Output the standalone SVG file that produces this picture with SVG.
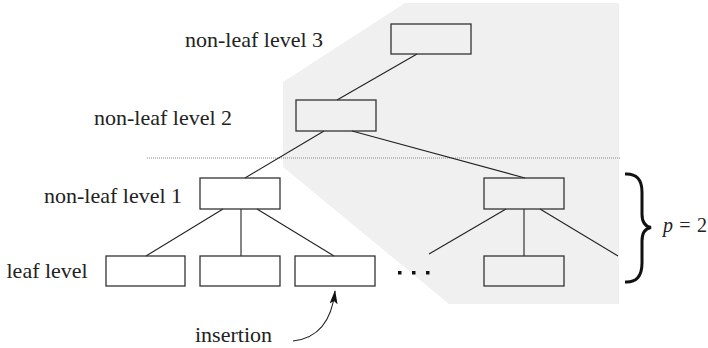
<svg xmlns="http://www.w3.org/2000/svg" width="708" height="348" viewBox="0 0 708 348">
<style>
.box{fill:none;stroke:#333;stroke-width:1.3}
.edge{stroke:#222;stroke-width:1.1;fill:none}
</style>
<defs>
<marker id="ah" viewBox="0 0 14 8" refX="13" refY="4" markerWidth="14" markerHeight="8" markerUnits="userSpaceOnUse" orient="auto">
<path d="M0,0 L14,4 L0,8 L3,4 Z" fill="#111"/>
</marker>
</defs>
<polygon id="region" points="283,82 405,3 619,3 619,304 449,304 283,167" fill="#f0f0f0"/>
<line x1="147" y1="158" x2="620" y2="158" stroke="#888" stroke-width="1" stroke-dasharray="1,1"/>
<g id="connectors">
<line class="edge" x1="417" y1="54" x2="337" y2="100"/>
<line class="edge" x1="324" y1="131" x2="245" y2="178"/>
<line class="edge" x1="352" y1="131" x2="525" y2="178"/>
<line class="edge" x1="223" y1="209" x2="146" y2="256"/>
<line class="edge" x1="241" y1="209" x2="241" y2="256"/>
<line class="edge" x1="257" y1="209" x2="334" y2="256"/>
<line class="edge" x1="506" y1="209" x2="429" y2="254"/>
<line class="edge" x1="524" y1="209" x2="524" y2="256"/>
<line class="edge" x1="540" y1="209" x2="618" y2="256"/>
<path class="edge" d="M293,341 Q330,337 335,291" marker-end="url(#ah)"/>
</g>
<g id="n3"><rect class="box" x="391" y="24" width="80" height="30"/></g>
<g id="n2"><rect class="box" x="296" y="100" width="80" height="31"/></g>
<g id="n1a"><rect class="box" x="200" y="178" width="80" height="31"/></g>
<g id="n1b"><rect class="box" x="484" y="178" width="80" height="31"/></g>
<g id="leaf1"><rect class="box" x="106" y="256" width="79" height="30"/></g>
<g id="leaf2"><rect class="box" x="200" y="256" width="80" height="30"/></g>
<g id="leaf3"><rect class="box" x="295" y="256" width="80" height="30"/></g>
<g id="leaf4"><rect class="box" x="484" y="256" width="80" height="30"/></g>
<g id="dots" fill="#111">
<rect x="398" y="271" width="3.5" height="3.5"/>
<rect x="412" y="271" width="3.5" height="3.5"/>
<rect x="426" y="271" width="3.5" height="3.5"/>
</g>
<g id="labels" font-family="Liberation Serif, serif" font-size="22" fill="#222">
<text x="185" y="47">non-leaf level 3</text>
<text x="94" y="125">non-leaf level 2</text>
<text x="44" y="203">non-leaf level 1</text>
<text x="6.5" y="278">leaf level</text>
<text x="195" y="342">insertion</text>
</g>
<g id="brace">
<path d="M625,174 Q642,173 642,192 L642,214 Q642,226 651,227.5 Q642,229 642,241 L642,263 Q642,283 625,282" fill="none" stroke="#111" stroke-width="3"/>
<text x="663" y="232" font-family="Liberation Serif, serif" font-size="20" fill="#222" textLength="44"><tspan font-style="italic">p</tspan> = 2</text>
</g>
</svg>
